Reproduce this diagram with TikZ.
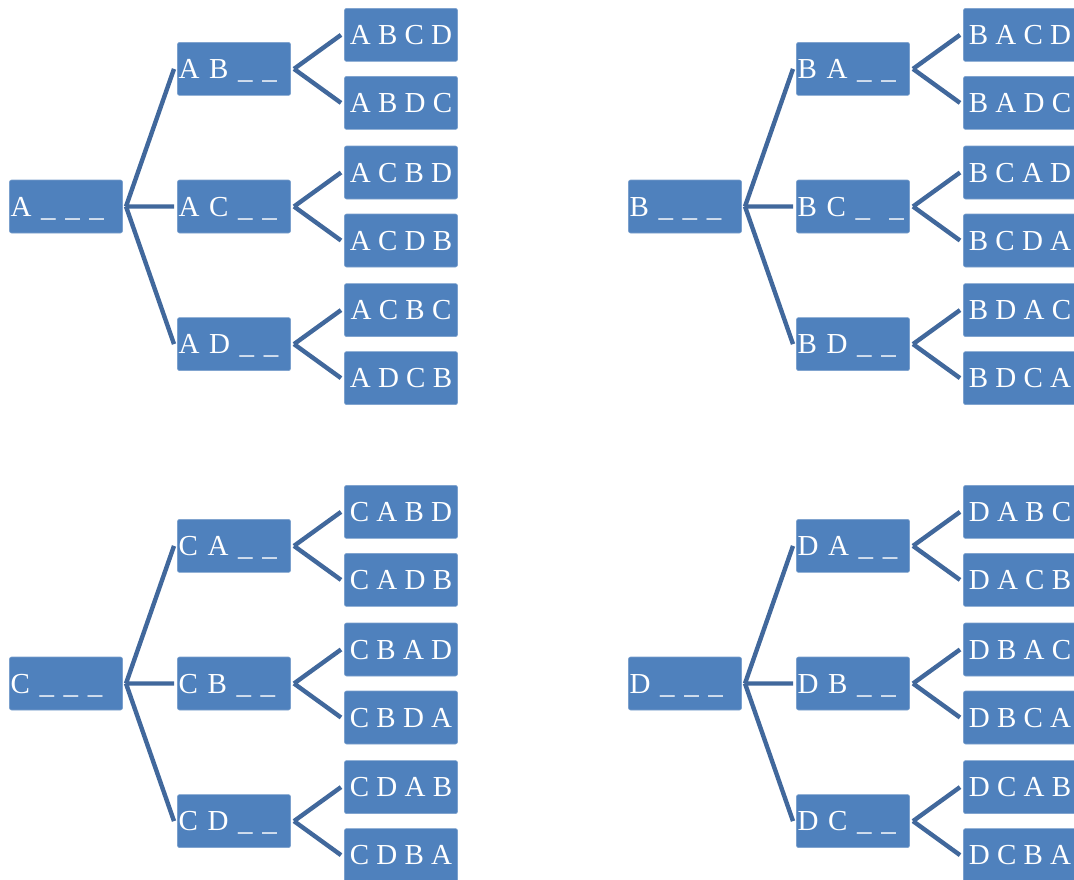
\documentclass[tikz,border=0pt]{standalone}
\usepackage{fontspec}
\setmainfont{Liberation Serif}
\usetikzlibrary{positioning}
\definecolor{boxblue}{HTML}{4F81BD}
\definecolor{linkblue}{HTML}{41689C}
\tikzset{main box/.style={rectangle,rounded corners=2pt,fill=boxblue,draw=boxblue!75!white,line width=0.6pt,
    text=white,minimum width=113pt,minimum height=53pt,inner sep=1pt,outer xsep=3.5pt,
    text height=19.5pt,text depth=0pt,font=\fontsize{29}{29}\selectfont},
  left box/.style={main box,text width=111pt,align=left},
  link/.style={draw=linkblue,line width=4.4pt},}

\begin{document}
\begin{tikzpicture}[x=1pt,y=1pt]
       \useasboundingbox (0,0) rectangle (1074,-879);
       % tree A
       \node[left box] (a) at (66,-206.5) {A \_ \_ \_};
       \node[left box] (ac) [right = 48pt of a]{A C \_ \_};
       \node[left box] (ab) [above = 84pt of ac]{A B \_ \_};
       \node[left box] (ad) [below = 84pt of ac]{A D \_ \_};
       \node[main box] (abcd) [right = 47pt of ab, yshift=34pt]{A B C D};
       \node[main box] (abdc) [right = 47pt of ab, yshift=-34pt]{A B D C};
       \node[main box] (acbd) [right = 47pt of ac, yshift=34pt]{A C B D};
       \node[main box] (acdb) [right = 47pt of ac, yshift=-34pt]{A C D B};
       \node[main box] (acbc) [right = 47pt of ad, yshift=34pt]{A C B C};
       \node[main box] (adcb) [right = 47pt of ad, yshift=-34pt]{A D C B};
       
       % tree B
       \node[left box] (b) at (685,-206.5) {B \_ \_ \_};
       \node[left box] (bc) [right = 48pt of b]{B C \_\ \ \_};
       \node[left box] (ba) [above = 84pt of bc]{B A \_ \_};
       \node[left box] (bd) [below = 84pt of bc]{B D \_ \_};
       \node[main box] (bacd) [right = 47pt of ba, yshift=34pt]{B A C D};
       \node[main box] (badc) [right = 47pt of ba, yshift=-34pt]{B A D C};
       \node[main box] (bcad) [right = 47pt of bc, yshift=34pt]{B C A D};
       \node[main box] (bcda) [right = 47pt of bc, yshift=-34pt]{B C D A};
       \node[main box] (bdac) [right = 47pt of bd, yshift=34pt]{B D A C};
       \node[main box] (bdca) [right = 47pt of bd, yshift=-34pt]{B D C A};
       
       % tree C
       \node[left box] (c) at (66,-683.5) {C \_ \_ \_};
       \node[left box] (cb) [right = 48pt of c]{C B \_ \_};
       \node[left box] (ca) [above = 84pt of cb]{C A \_ \_};
       \node[left box] (cd) [below = 84pt of cb]{C D \_ \_};
       \node[main box] (cabd) [right = 47pt of ca, yshift=34pt]{C A B D};
       \node[main box] (cadb) [right = 47pt of ca, yshift=-34pt]{C A D B};
       \node[main box] (cbad) [right = 47pt of cb, yshift=34pt]{C B A D};
       \node[main box] (cbda) [right = 47pt of cb, yshift=-34pt]{C B D A};
       \node[main box] (cdab) [right = 47pt of cd, yshift=34pt]{C D A B};
       \node[main box] (cdba) [right = 47pt of cd, yshift=-34pt]{C D B A};
       
       % tree D
       \node[left box] (d) at (685,-683.5) {D \_ \_ \_};
       \node[left box] (db) [right = 48pt of d]{D B \_ \_};
       \node[left box] (da) [above = 84pt of db]{D A \_ \_};
       \node[left box] (dc) [below = 84pt of db]{D C \_ \_};
       \node[main box] (dabc) [right = 47pt of da, yshift=34pt]{D A B C};
       \node[main box] (dacb) [right = 47pt of da, yshift=-34pt]{D A C B};
       \node[main box] (dbac) [right = 47pt of db, yshift=34pt]{D B A C};
       \node[main box] (dbca) [right = 47pt of db, yshift=-34pt]{D B C A};
       \node[main box] (dcab) [right = 47pt of dc, yshift=34pt]{D C A B};
       \node[main box] (dcba) [right = 47pt of dc, yshift=-34pt]{D C B A};
       
       \path[link]
       (a.east) -- (ab.west) (a.east) -- (ac.west) (a.east) -- (ad.west)
       (ab.east) -- (abcd.west) (ab.east) -- (abdc.west)
       (ac.east) -- (acbd.west) (ac.east) -- (acdb.west)
       (ad.east) -- (acbc.west) (ad.east) -- (adcb.west)
       (b.east) -- (ba.west) (b.east) -- (bc.west) (b.east) -- (bd.west)
       (ba.east) -- (bacd.west) (ba.east) -- (badc.west)
       (bc.east) -- (bcad.west) (bc.east) -- (bcda.west)
       (bd.east) -- (bdac.west) (bd.east) -- (bdca.west)
       (c.east) -- (ca.west) (c.east) -- (cb.west) (c.east) -- (cd.west)
       (ca.east) -- (cabd.west) (ca.east) -- (cadb.west)
       (cb.east) -- (cbad.west) (cb.east) -- (cbda.west)
       (cd.east) -- (cdab.west) (cd.east) -- (cdba.west)
       (d.east) -- (da.west) (d.east) -- (db.west) (d.east) -- (dc.west)
       (da.east) -- (dabc.west) (da.east) -- (dacb.west)
       (db.east) -- (dbac.west) (db.east) -- (dbca.west)
       (dc.east) -- (dcab.west) (dc.east) -- (dcba.west);
    \end{tikzpicture}
\end{document}
